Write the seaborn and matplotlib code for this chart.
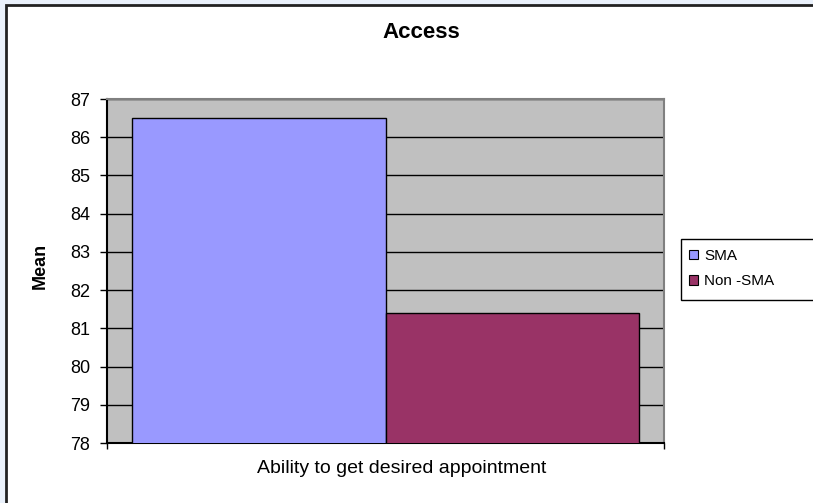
import matplotlib
matplotlib.use("Agg")
import matplotlib.pyplot as plt
import matplotlib.transforms as mtransforms
import seaborn as sns
import pandas as pd
from matplotlib.patches import Rectangle, Patch

categories = ["Ability to get desired appointment"]
groups = ["SMA", "Non -SMA"]
values = [86.5, 81.4]
colors = ["#9999FF", "#993366"]
yticks = [78, 79, 80, 81, 82, 83, 84, 85, 86, 87]

df = pd.DataFrame({"category": categories * len(groups), "group": groups, "Mean": values})

sns.set_style("white")
plt.rcParams["font.family"] = ["Liberation Sans", "DejaVu Sans"]
plt.rcParams["text.color"] = "black"
plt.rcParams["axes.labelcolor"] = "black"
plt.rcParams["xtick.color"] = "black"
plt.rcParams["ytick.color"] = "black"

W, H = 813, 503
fig = plt.figure(figsize=(W / 100, H / 100), dpi=100)
fig.patch.set_facecolor("#EAF1FB")
# white chart area with dark border
fig.add_artist(Rectangle((6 / W, -0.05), 1.2, 1 - 5 / H + 0.05, transform=fig.transFigure,
                         facecolor="white", edgecolor="#222222", linewidth=2, zorder=-5))
# legend frame (extends past the right edge as in the reference)
fig.add_artist(Rectangle((681 / W, 1 - 300 / H), 0.5, 61 / H, transform=fig.transFigure,
                         facecolor="white", edgecolor="black", linewidth=1, zorder=-4))

ax = fig.add_axes([107 / W, 1 - 443 / H, (664 - 107) / W, (443 - 99) / H])
ax.set_facecolor("#C0C0C0")

sns.barplot(data=df, x="category", y="Mean", hue="group", palette=colors, width=1.0,
            edgecolor="black", linewidth=1, saturation=1, ax=ax, legend=False, zorder=3)

ax.set_ylim(78, 87)
ax.set_xlim(-0.55, 0.55)
ax.set_yticks(yticks)
ax.set_yticklabels([str(t) for t in yticks], fontsize=13)
ax.yaxis.grid(True, color="black", linewidth=1)
ax.set_axisbelow(True)
for b in ax.patches:
    b.set_zorder(3)
ax.tick_params(axis="y", direction="out", length=5, width=1, color="black", left=True, pad=7)
ax.set_xticks([0])
ax.set_xticklabels(categories, fontsize=14)
ax.set_xticks([-0.55, 0.55], minor=True)
ax.tick_params(axis="x", which="major", length=0, pad=12)
ax.tick_params(axis="x", which="minor", direction="out", length=4, width=1, color="black", bottom=True)
offset = mtransforms.ScaledTranslation(16 / 100, 0, fig.dpi_scale_trans)
for lab in ax.get_xticklabels():
    lab.set_transform(lab.get_transform() + offset)
ax.set_xlabel("")
ax.set_ylabel("Mean", fontsize=13, fontweight="bold")
ax.yaxis.set_label_coords(-0.104, 0.515)

for s in ["left", "bottom"]:
    ax.spines[s].set_color("black")
    ax.spines[s].set_linewidth(1.5)
for s in ["top", "right"]:
    ax.spines[s].set_color("#808080")
    ax.spines[s].set_linewidth(1.5)
    ax.spines[s].set_visible(True)

fig.text(421 / W, 1 - 32 / H, "Access", ha="center", va="center", fontsize=16, fontweight="bold")

handles = [Patch(facecolor=c, edgecolor="black", linewidth=0.8) for c in colors]
leg = fig.legend(handles, groups, loc="upper left", bbox_to_anchor=(689 / W, 1 - 249 / H),
                 frameon=False, fontsize=11, handlelength=0.6, handleheight=0.6,
                 handletextpad=0.4, borderpad=0, labelspacing=0.75, borderaxespad=0)

fig.savefig("out.png", dpi=100, facecolor=fig.get_facecolor())
